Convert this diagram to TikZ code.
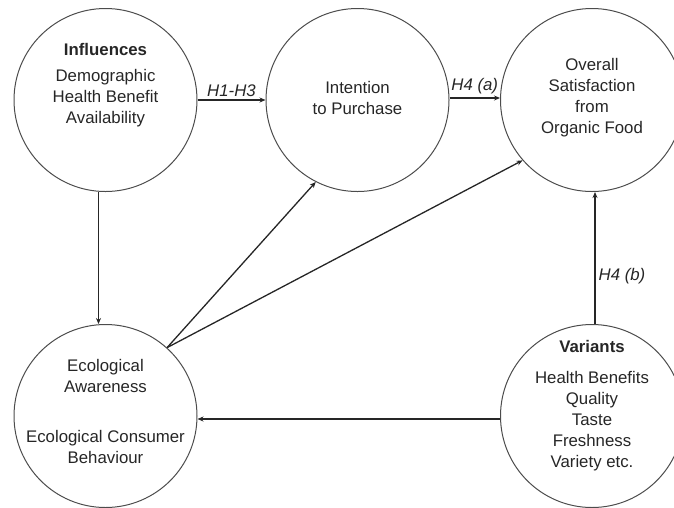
\documentclass[tikz,border=0pt]{standalone}
\usepackage{fontspec}
\setmainfont{Liberation Sans}
\usetikzlibrary{arrows.meta}

\begin{document}
\begin{tikzpicture}[x=1pt,y=-1pt,
    construct/.style={circle,draw=black!70,line width=1pt,minimum size=183pt,inner sep=0pt},
    txt/.style={align=center,text=black!85,font=\fontsize{16.8}{21}\selectfont},
    hyp/.style={font=\fontsize{16.8}{21}\selectfont\itshape,text=black!85,inner sep=3pt},
    link/.style={-{Stealth[length=6pt,width=5pt]},line width=1.3pt,black!85}]
    \useasboundingbox (0,0) rectangle (674,507);
    % the five constructs
    \node[construct] (infl) at (105.5,100) {};
    \node[construct] (intent) at (357.5,100) {};
    \node[construct] (overall) at (592,100) {};
    \node[construct] (eco) at (105.5,416) {};
    \node[construct] (var) at (592,416) {};
    % their texts
    \node[txt] (infltxt) at ([yshift=14.5pt]infl.center) {\textbf{Influences}\\[5pt] Demographic\\ Health Benefit\\ Availability};
    \node[txt] (intenttxt) at ([yshift=2pt]intent.center) {Intention\\ to Purchase};
    \node[txt] (overalltxt) at ([yshift=2pt]overall.center) {Overall\\ Satisfaction\\ from\\ Organic Food};
    \node[txt] (ecotxt) at ([yshift=4.5pt]eco.center) {Ecological\\ Awareness\\[29pt] Ecological Consumer\\ Behaviour};
    \node[txt] (vartxt) at ([yshift=10pt]var.center) {\textbf{Variants}\\[10pt] Health Benefits\\ Quality\\ Taste\\ Freshness\\ Variety etc.};
    % hypotheses
    \draw[link] (infl.east) -- node[hyp,above] {H1-H3} (intent.west);
    \draw[link] ([yshift=2pt]intent.east) -- node[hyp,above] {H4 (a)} ([yshift=2pt]overall.west);
    \draw[link] ([xshift=3pt]var.north) -- node[hyp,right,pos=0.36] {H4 (b)} ([xshift=3pt]overall.south);
    \draw[link] ([xshift=-7pt]infl.south) -- ([xshift=-7pt]eco.north);
    \draw[link] (eco.48) -- (intent.243);
    \draw[link] (eco.48) -- (overall.221);
    \draw[link] ([yshift=-3pt]var.west) -- ([yshift=-3pt]eco.east);
\end{tikzpicture}
\end{document}
